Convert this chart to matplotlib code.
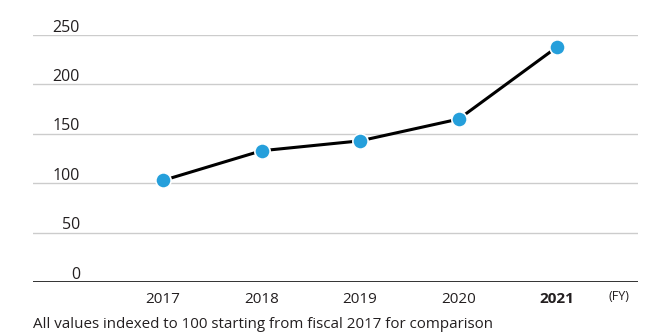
import matplotlib
matplotlib.use("Agg")
import matplotlib.pyplot as plt
import matplotlib.transforms as mtransforms

plt.rcParams['font.family'] = ['Open Sans', 'DejaVu Sans']

years = [2017, 2018, 2019, 2020, 2021]
index_values = [103, 133, 143, 165, 238]
y_ticks = [0, 50, 100, 150, 200, 250]
year_labels = ['2017', '2018', '2019', '2020', '2021']

LINE_COLOR = '#000000'
DOT_COLOR = '#259fdb'
GRID_COLOR = '#cccccc'
TEXT_COLOR = '#231f20'

W, H = 653, 336
fig = plt.figure(figsize=(W / 100, H / 100), dpi=100)
ax = fig.add_axes([33 / W, 1 - 282.3 / H, (638 - 33) / W, (282.3 - 35) / H])

ax.plot(years, index_values, color=LINE_COLOR, lw=2.2, zorder=3,
        marker='o', markersize=11, markerfacecolor=DOT_COLOR,
        markeredgecolor='white', markeredgewidth=1.2, clip_on=False)

ax.set_xlim(2015.68, 2021.82)
ax.set_ylim(0, 250)

# horizontal grid lines with the numbers sitting above them on the left
for v in y_ticks[1:]:
    ax.axhline(v, color=GRID_COLOR, lw=1.0, zorder=1)
ax.axhline(0, color='#222222', lw=1.3, zorder=2)

lbl_trans = mtransforms.blended_transform_factory(fig.transFigure, ax.transData)
lbl_trans = mtransforms.offset_copy(lbl_trans, fig=fig, y=3.5, units='dots')
for v in y_ticks:
    ax.text(80 / W, v, str(v), transform=lbl_trans, ha='right', va='baseline',
            fontsize=11.5, color=TEXT_COLOR)

for sp in ax.spines.values():
    sp.set_visible(False)
ax.set_yticks([])
ax.set_xticks(years)
ax.set_xticklabels(year_labels, fontsize=11, color=TEXT_COLOR)
ax.get_xticklabels()[-1].set_fontweight('bold')
ax.tick_params(axis='x', length=0, pad=7)

fig.text(619 / W, 1 - 297 / H, '(FY)', ha='center', va='center',
         fontsize=9, color=TEXT_COLOR)
fig.text(33 / W, 1 - 325 / H,
         'All values indexed to 100 starting from fiscal 2017 for comparison',
         ha='left', va='center', fontsize=10.9, color=TEXT_COLOR)

fig.savefig('out.png', dpi=100)
